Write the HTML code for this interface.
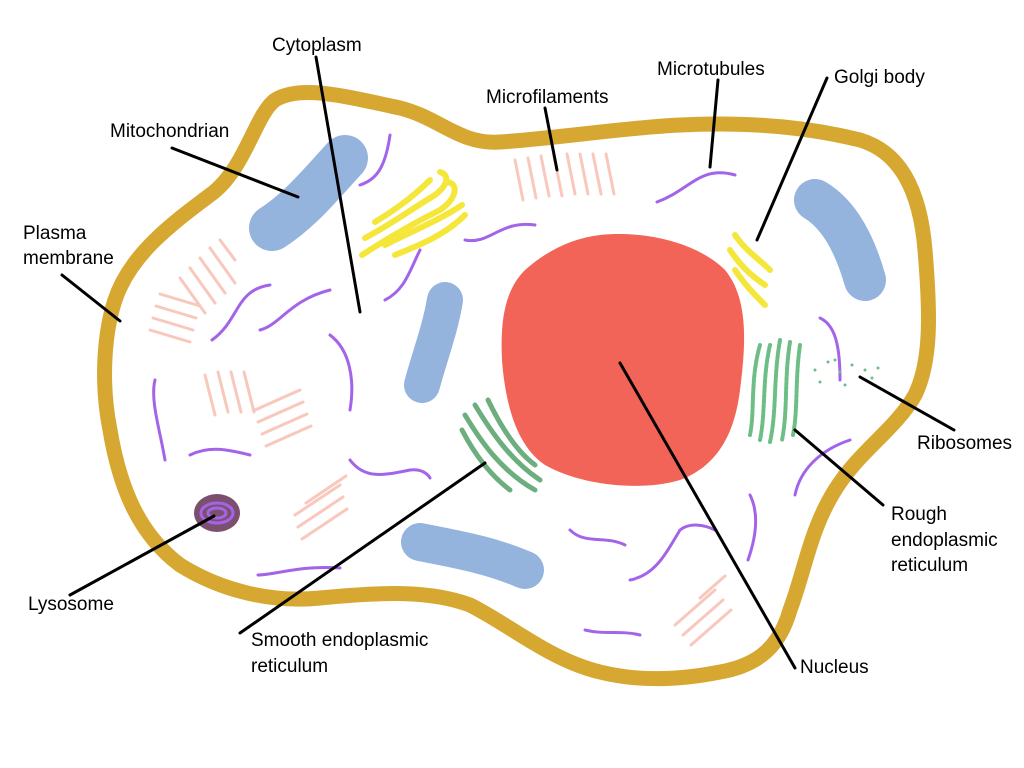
<!DOCTYPE html>
<html><head><meta charset="utf-8"><style>
html,body{margin:0;padding:0;background:#fff}
svg{display:block}
text{font-family:"Liberation Sans",sans-serif;font-size:19px;fill:#000}
</style></head><body>
<svg width="1024" height="768" viewBox="0 0 1024 768">
<path d="M275,100 C300,85 340,95 400,108 C440,118 460,145 500,142 C560,138 620,128 680,125 C740,122 800,125 860,140 C900,152 920,190 925,250 C930,310 932,360 915,395 C895,430 860,450 835,490 C810,530 805,570 790,610 C780,645 760,665 720,672 C680,680 640,682 600,672 C550,660 510,625 470,605 C430,590 380,592 320,598 C270,603 220,590 180,565 C140,535 120,490 110,430 C100,380 105,330 115,300 C130,255 170,225 210,195 C245,170 255,115 275,100 Z" fill="#fff" stroke="#D6A832" stroke-width="15" stroke-linejoin="round"/>
<g stroke="#F9C8BC" stroke-width="3" stroke-linecap="round">
<path d="M515,160 l8,40 M528,158 l8,40 M541,156 l8,40 M554,156 l8,40 M567,154 l8,40 M580,154 l8,40 M593,154 l8,40 M606,154 l8,40"/>
<path d="M150,330 l40,12 M153,318 l40,12 M156,306 l40,12 M160,294 l40,12 M180,278 l25,35 M190,268 l25,35 M200,258 l25,35 M210,248 l25,35 M220,240 l15,20"/>
<path d="M205,375 l10,40 M218,372 l10,40 M231,372 l10,40 M244,372 l10,40 M255,410 l45,-20 M258,422 l45,-20 M262,434 l45,-20 M266,446 l45,-20"/>
<path d="M295,515 l45,-30 M298,527 l45,-30 M302,539 l45,-30 M306,503 l40,-27"/>
<path d="M675,625 l40,-35 M683,635 l40,-35 M691,645 l40,-35 M700,598 l25,-22"/>
</g>
<g fill="none" stroke="#A364E8" stroke-width="3" stroke-linecap="round">
<path d="M360,185 C375,180 385,170 390,135"/>
<path d="M212,340 C240,320 235,290 270,285"/>
<path d="M260,330 C280,325 290,300 330,290"/>
<path d="M330,335 C350,350 355,380 350,410"/>
<path d="M385,300 C405,290 410,270 420,250"/>
<path d="M155,380 C150,400 160,430 165,460"/>
<path d="M190,455 C210,445 230,450 250,455"/>
<path d="M350,460 C365,480 385,475 410,470 C425,468 430,478 430,478"/>
<path d="M258,575 C275,575 300,565 340,568"/>
<path d="M465,240 C490,245 500,220 535,225"/>
<path d="M657,202 C690,190 700,165 735,175"/>
<path d="M570,530 C585,545 605,535 625,545"/>
<path d="M630,580 C655,575 665,555 680,530 C690,522 705,525 715,530"/>
<path d="M750,495 C760,515 755,540 748,560"/>
<path d="M795,495 C800,470 820,450 850,440"/>
<path d="M820,318 C835,325 840,345 840,380"/>
<path d="M585,630 C605,635 620,630 640,635"/>
</g>
<g stroke="#94B3DD" stroke-linecap="round" fill="none">
<path d="M272,228 C300,210 320,185 345,158" stroke-width="46"/>
<path d="M445,300 C440,330 430,355 422,385" stroke-width="36"/>
<path d="M815,200 C840,215 855,245 865,280" stroke-width="42"/>
<path d="M420,542 C460,550 490,555 525,570" stroke-width="38"/>
</g>
<path d="M600,235 C650,230 700,245 725,270 C750,300 745,350 740,390 C735,430 720,465 680,480 C640,492 580,485 545,465 C515,445 505,400 502,360 C500,320 505,290 525,270 C550,248 575,238 600,235 Z" fill="#F26457"/>
<g fill="none" stroke="#F5E63A" stroke-width="6" stroke-linecap="round">
<path d="M362,255 C385,240 410,225 440,210 C455,200 460,185 448,182"/>
<path d="M365,238 C390,225 410,210 435,195 C448,185 450,175 440,172"/>
<path d="M375,222 C395,210 415,195 430,180"/>
<path d="M385,245 C410,232 440,220 462,205"/>
<path d="M395,255 C420,245 445,235 465,215"/>
<path d="M735,235 C745,250 760,260 770,270"/>
<path d="M730,250 C740,265 750,275 765,285"/>
<path d="M735,270 C745,285 755,295 765,305"/>
</g>
<g fill="none" stroke="#6DBE85" stroke-width="4" stroke-linecap="round" stroke-dasharray="3 2">
<path d="M760,345 C750,380 755,410 750,435"/>
<path d="M770,345 C762,380 766,410 760,440"/>
<path d="M780,340 C773,380 777,410 770,442"/>
<path d="M790,342 C784,380 788,410 782,440"/>
<path d="M800,345 C795,380 798,410 793,435"/>
</g>
<g fill="#6DBE85"><circle cx="815" cy="370" r="1.5"/><circle cx="828" cy="362" r="1.5"/><circle cx="840" cy="372" r="1.5"/><circle cx="852" cy="365" r="1.5"/><circle cx="865" cy="370" r="1.5"/><circle cx="878" cy="368" r="1.5"/><circle cx="820" cy="382" r="1.5"/><circle cx="845" cy="385" r="1.5"/><circle cx="872" cy="378" r="1.5"/><circle cx="835" cy="360" r="1.5"/></g>
<g fill="none" stroke="#6DAE7E" stroke-width="5" stroke-linecap="round">
<path d="M465,415 C480,440 500,470 535,490"/>
<path d="M475,405 C490,430 510,460 540,480"/>
<path d="M488,400 C500,425 515,450 535,465"/>
<path d="M462,430 C475,455 490,475 510,490"/>
</g>
<ellipse cx="217" cy="513" rx="23" ry="19" fill="#7B4F6E"/>
<g fill="none" stroke="#A364E8" stroke-width="3"><ellipse cx="217" cy="513" rx="16" ry="10"/><ellipse cx="217" cy="513" rx="9" ry="5"/></g>
<g stroke="#000" stroke-width="3" stroke-linecap="round">
<line x1="316" y1="57" x2="360" y2="312"/>
<line x1="172" y1="148" x2="298" y2="197"/>
<line x1="62" y1="275" x2="120" y2="321"/>
<line x1="545" y1="108" x2="557" y2="170"/>
<line x1="718" y1="80" x2="710" y2="167"/>
<line x1="827" y1="78" x2="757" y2="240"/>
<line x1="860" y1="377" x2="954" y2="430"/>
<line x1="795" y1="430" x2="883" y2="505"/>
<line x1="620" y1="363" x2="795" y2="668"/>
<line x1="485" y1="463" x2="240" y2="633"/>
<line x1="214" y1="516" x2="70" y2="595"/>
</g>
<text x="272" y="51">Cytoplasm</text>
<text x="110" y="137">Mitochondrian</text>
<text x="23" y="239">Plasma</text>
<text x="23" y="264">membrane</text>
<text x="486" y="103">Microfilaments</text>
<text x="657" y="75">Microtubules</text>
<text x="834" y="83">Golgi body</text>
<text x="917" y="449">Ribosomes</text>
<text x="891" y="520">Rough</text>
<text x="891" y="546">endoplasmic</text>
<text x="891" y="571">reticulum</text>
<text x="800" y="673">Nucleus</text>
<text x="251" y="646">Smooth endoplasmic</text>
<text x="251" y="672">reticulum</text>
<text x="28" y="610">Lysosome</text>
</svg>
</body></html>
